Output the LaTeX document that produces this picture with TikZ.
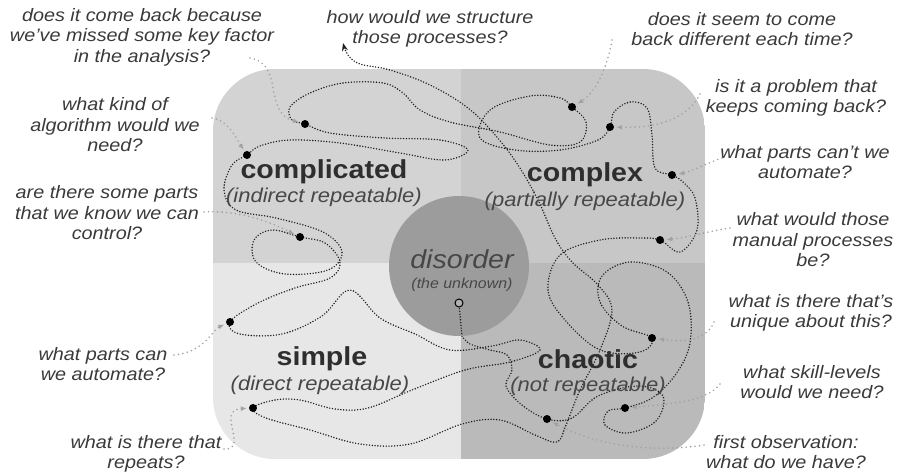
\documentclass[tikz,border=0pt]{standalone}
\usepackage{fontspec}
\setmainfont{Liberation Sans}[FakeStretch=1.1]
\usetikzlibrary{arrows.meta}

\definecolor{qtl}{HTML}{D3D3D3}
\definecolor{qtr}{HTML}{C7C7C7}
\definecolor{qbl}{HTML}{E7E7E7}
\definecolor{qbr}{HTML}{BABABA}
\definecolor{discol}{HTML}{9C9C9C}
\definecolor{qtext}{HTML}{3A3A3A}
\definecolor{ttext}{HTML}{2E2E2E}
\definecolor{stext}{HTML}{474747}
\definecolor{trailc}{HTML}{1E1E1E}
\definecolor{leadc}{HTML}{A2A2A2}

\begin{document}
\begin{tikzpicture}[x=1pt,y=-1pt,
  question/.style={text=qtext, align=center, inner sep=0pt,
    font=\fontsize{18}{20.5}\selectfont\itshape},
  quadtitle/.style={text=ttext, inner sep=0pt,
    font=\fontsize{26}{28}\selectfont\bfseries},
  quadsub/.style={text=stext, inner sep=0pt,
    font=\fontsize{20}{22}\selectfont\itshape},
  trail/.style={draw=trailc, line width=1.6pt, line cap=round,
    dash pattern=on 0pt off 2.8pt},
  leader/.style={draw=leadc, line width=1.8pt, line cap=round,
    dash pattern=on 0pt off 4.5pt,
    -{Latex[length=6pt,width=5pt]}, shorten >=2pt},
  stopdot/.style={circle, fill=black, inner sep=0pt, minimum size=8pt}
]
\useasboundingbox (0,0) rectangle (897,472);

% the four domains inside a rounded frame
\begin{scope}
  \clip[rounded corners=62pt] (213,69) rectangle (705,459);
  \fill[qtl] (213,69) rectangle (461,263);
  \fill[qtr] (461,69) rectangle (705,263);
  \fill[qbl] (213,263) rectangle (461,459);
  \fill[qbr] (461,263) rectangle (705,459);
\end{scope}

% stops along the trail
\coordinate (pS) at (459,303);
\coordinate (pExit) at (462,336);
\coordinate (pA) at (547,419);
\coordinate (pB) at (625,408);
\coordinate (pC) at (652,338);
\coordinate (pD) at (660,240);
\coordinate (pE) at (672,175);
\coordinate (pF) at (610,127);
\coordinate (pG) at (572,107);
\coordinate (pH) at (305,124);
\coordinate (pI) at (247,155);
\coordinate (pJ) at (300,237);
\coordinate (pK) at (230,322);
\coordinate (pL) at (253,408);
\coordinate (pEnd) at (343,43);

% the wandering trail, from the edge of disorder onwards
\draw[trail, -{Stealth[length=8pt,width=6pt]}] plot[smooth, tension=0.6] coordinates {
  (pExit) (470,344) (490,350) (507,355) (512,370) (506,386) (522,405) (pA)
  (572,418) (598,396) (638,386) (663,396) (656,421) (627,433) (605,425) (608,411) (pB)
  (652,398) (676,374) (690,343) (688,302) (667,272) (630,262) (602,276) (600,302) (622,326) (pC)
  (640,352) (600,350) (565,320) (548,290) (560,255) (600,240) (640,238) (pD)
  (680,252) (697,230) (695,198) (683,182) (pE)
  (655,168) (652,135) (647,108) (630,102) (614,112) (pF)
  (598,140) (560,150) (515,150) (480,138) (490,110) (530,96) (560,98) (pG)
  (586,122) (580,142) (550,145) (500,132) (450,122) (420,110) (403,93) (383,83) (343,83) (310,93) (290,107) (292,120) (pH)
  (330,133) (385,138) (440,140) (468,150) (445,160) (400,153) (340,143) (290,140) (260,146) (pI)
  (232,165) (224,190) (236,210) (276,218) (323,232) (342,252) (328,270) (285,274) (256,262) (254,240) (272,230) (pJ)
  (325,243) (340,262) (330,278) (295,288) (258,303) (pK)
  (240,334) (282,334) (322,316) (350,290) (380,318) (415,334) (450,350) (492,346) (520,340) (540,350) (510,362) (465,370) (412,390) (368,408) (335,409) (300,400) (275,400) (pL)
  (266,418) (310,430) (360,444) (410,444) (462,424) (500,420) (535,435) (557,442) (566,425) (580,390) (600,350) (612,310) (598,285) (572,262) (555,238) (538,200) (518,165) (496,136) (468,108) (430,85) (390,70) (360,64) (348,55) (pEnd)
};

% disorder in the middle, above the trail
\node[circle, fill=discol, minimum size=140pt, inner sep=0pt] (dis) at (459,266) {};
\node[text=stext, inner sep=0pt, font=\fontsize{26}{28}\selectfont\itshape] (distitle) at (462,259) {disorder};
\node[text=stext, inner sep=0pt, font=\fontsize{14.5}{16}\selectfont\itshape] (dissub) at (462,285) {(the unknown)};

% first leg: from the start marker out of disorder
\draw[trail] (pS) .. controls (460,315) and (461,326) .. (pExit);
\node[circle, draw=black, fill=discol!80!white, line width=1pt, minimum size=8pt, inner sep=0pt] (S) at (pS) {};

% the stops
\foreach \p in {A,B,C,D,E,F,G,H,I,J,K,L}
  \node[stopdot] (\p) at (p\p) {};

% domain names
\node[quadtitle] (tcomplicated) at (324,172) {complicated};
\node[quadsub] (scomplicated) at (324,197) {(indirect repeatable)};
\node[quadtitle] (tcomplex) at (585,175) {complex};
\node[quadsub] (scomplex) at (585,201) {(partially repeatable)};
\node[quadtitle] (tsimple) at (322,359) {simple};
\node[quadsub] (ssimple) at (320,385) {(direct repeatable)};
\node[quadtitle] (tchaotic) at (588,359) {chaotic};
\node[quadsub] (schaotic) at (588,386) {(not repeatable)};

% questions
\node[question] (qH) at (142,37) {does it come back because\\we’ve missed some key factor\\in the analysis?};
\node[question] (qI) at (115,125) {what kind of\\algorithm would we\\need?};
\node[question] (qJ) at (107,213) {are there some parts\\that we know we can\\control?};
\node[question] (qK) at (103,364) {what parts can\\we automate?};
\node[question] (qL) at (146,454) {what is there that\\repeats?};
\node[question] (qEnd) at (430,29) {how would we structure\\those processes?};
\node[question] (qG) at (742,29) {does it seem to come\\back different each time?};
\node[question] (qF) at (796,98) {is it a problem that\\keeps coming back?};
\node[question] (qE) at (805,162) {what parts can’t we\\automate?};
\node[question] (qD) at (813,240) {what would those\\manual processes\\be?};
\node[question] (qC) at (811,313) {what is there that’s\\unique about this?};
\node[question] (qB) at (812,382) {what skill-levels\\would we need?};
\node[question] (qA) at (786,452) {first observation:\\what do we have?};

% where each leader leaves its question
\coordinate (lH) at (250,58);
\coordinate (lI) at (212,118);
\coordinate (lJ) at (204,212);
\coordinate (lK) at (174,355);
\coordinate (lL) at (224,449);
\coordinate (lG) at (612,40);
\coordinate (lF) at (700,94);
\coordinate (lE) at (722,158);
\coordinate (lD) at (730,228);
\coordinate (lC) at (714,322);
\coordinate (lB) at (720,384);
\coordinate (lA) at (704,445);

% leaders from questions to stops
\draw[leader] (lH) .. controls (285,64) and (262,112) .. (H);
\draw[leader] (lI) .. controls (228,120) and (236,138) .. (I);
\draw[leader] (lJ) .. controls (240,210) and (270,222) .. (J);
\draw[leader] (lK) .. controls (205,352) and (212,330) .. (K);
\draw[leader] (lL) .. controls (250,450) and (215,410) .. (L);
\draw[leader] (lG) .. controls (606,75) and (592,95) .. (G);
\draw[leader] (lF) .. controls (688,118) and (660,128) .. (F);
\draw[leader] (lE) .. controls (705,164) and (690,172) .. (E);
\draw[leader] (lD) .. controls (705,232) and (685,238) .. (D);
\draw[leader] (lC) .. controls (706,342) and (680,342) .. (C);
\draw[leader] (lB) .. controls (706,402) and (670,404) .. (B);
\draw[leader] (lA) .. controls (640,455) and (585,440) .. (A);
\end{tikzpicture}
\end{document}
